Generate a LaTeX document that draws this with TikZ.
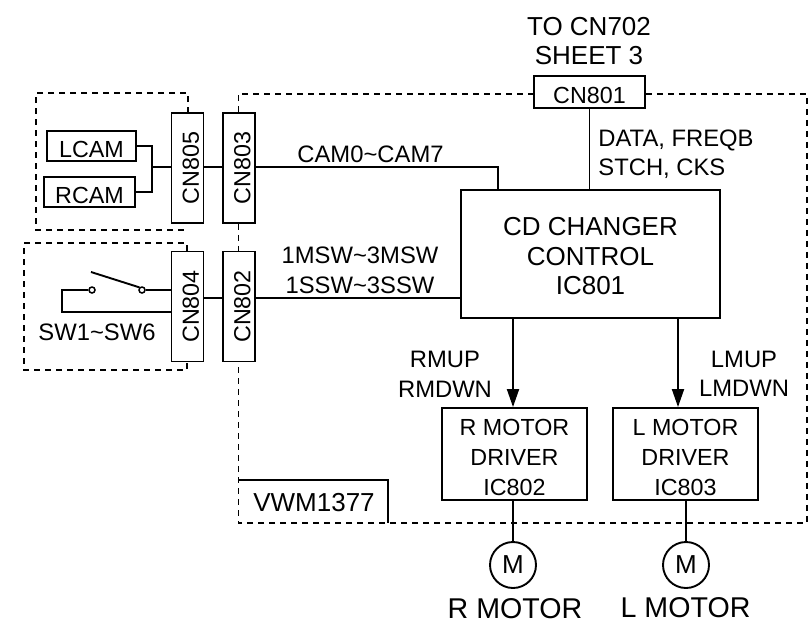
\documentclass[tikz,border=0pt]{standalone}
\usepackage{fontspec}
\setmainfont{Liberation Sans}
\usetikzlibrary{arrows.meta}

\newcommand{\lift}{\rule{0pt}{23pt}}

\tikzset{
  wire/.style={line width=1.9pt},
  signal/.style={wire, -{Triangle[length=18pt, width=12pt]}},
  frame/.style={line width=1.6pt, dash pattern=on 6pt off 5pt},
  box/.style={draw, line width=1.9pt, inner sep=0pt, align=center, font=\fontsize{23.3}{30}\selectfont},
  onebox/.style={box, text height=23pt},
  conn/.style={onebox, rotate=90, minimum width=110pt, minimum height=32pt},
  lab/.style={inner sep=0pt, align=center, font=\fontsize{23.8}{29.5}\selectfont},
  big/.style={inner sep=0pt, align=center, font=\fontsize{26}{29.5}\selectfont},
  motor/.style={draw, circle, line width=1.9pt, inner sep=0pt, minimum size=46pt, font=\fontsize{26}{30}\selectfont},
  motorlab/.style={inner sep=0pt, font=\fontsize{28.6}{30}\selectfont},
  contact/.style={draw, circle, line width=1.5pt, fill=white, minimum size=6pt, inner sep=0pt}
}

\begin{document}
\begin{tikzpicture}[x=1pt, y=-1pt]
  \useasboundingbox (0, 0) rectangle (809, 624);

  \node[conn] (cn805) at (187.5, 168) {CN805};
  \node[conn] (cn803) at (239, 168) {CN803};
  \node[conn] (cn804) at (187.5, 306.5) {CN804};
  \node[conn] (cn802) at (239, 306.5) {CN802};
  \node[onebox, minimum width=111pt, minimum height=32pt] (cn801) at (589.5, 92) {CN801};
  \node[onebox, minimum width=89pt, minimum height=30pt] (lcam) at (91.5, 146) {LCAM};
  \node[onebox, minimum width=91pt, minimum height=30pt] (rcam) at (89.5, 192) {RCAM};
  \node[box, font=\fontsize{26}{29.5}\selectfont, minimum width=259pt, minimum height=128pt] (ic801) at (590.5, 254) {\lift CD CHANGER\\CONTROL\\IC801};
  \node[box, minimum width=145pt, minimum height=92pt] (rdrv) at (514.5, 454) {\lift R MOTOR\\DRIVER\\IC802};
  \node[box, minimum width=145pt, minimum height=92pt] (ldrv) at (685.5, 454) {\lift L MOTOR\\DRIVER\\IC803};
  \node[motor] (rmot) at (513, 565) {M};
  \node[motor] (lmot) at (686, 565) {M};

  % cam side
  \coordinate (camj) at (152, 167);
  \coordinate (camin) at (498, 190);
  \draw[wire] (lcam.east) -| (camj);
  \draw[wire] (rcam.east) -| (camj);
  \draw[wire] (camj) -- (camj -| cn805.north);
  \draw[wire] (camj -| cn805.south) -- (camj -| cn803.north);
  \draw[wire] (camj -| cn803.south) -| (camin);

  % switch side
  \node[contact] (swl) at (92, 290) {};
  \node[contact] (swr) at (142, 290) {};
  \coordinate (swtip) at (91, 272);
  \coordinate (swlow) at (62, 312);
  \coordinate (swout) at (204, 298);
  \draw[wire] (swtip) -- (swr.north west);
  \draw[wire] (swr) -- (swr -| cn804.north);
  \draw[wire] (swl.west) -| (swlow) -- (swlow -| cn804.north);
  \draw[wire] (swout) -- (swout -| cn802.north);
  \draw[wire] (swout -| cn802.south) -- (swout -| ic801.west);

  \coordinate (rtap) at (513, 318);
  \coordinate (ltap) at (678, 318);
  \draw[wire] (cn801.south) -- (cn801.south |- ic801.north);
  \draw[signal] (rtap) -- (rtap |- rdrv.north);
  \draw[signal] (ltap) -- (ltap |- ldrv.north);
  \draw[wire] (rmot |- rdrv.south) -- (rmot.north);
  \draw[wire] (lmot |- ldrv.south) -- (lmot.north);

  % dashed frames
  \coordinate (ftl) at (238.5, 94);
  \coordinate (fbr) at (807, 523);
  \draw[frame] (188, 113) -- (188, 93) -- (36, 93) -- (36, 230) -- (188, 230);
  \draw[frame] (187, 251) -- (187, 243) -- (24, 243) -- (24, 370) -- (187, 370) -- (187, 362);
  \draw[frame] (ftl |- cn803.east) -- (ftl) -- (ftl -| cn801.west);
  \draw[frame] (ftl -| cn801.east) -- (ftl -| fbr) -- (fbr) -- (fbr -| ftl) -- (ftl |- cn802.west);
  \draw[frame] (ftl |- cn803.west) -- (ftl |- cn802.east);
  \draw[wire] (238.5, 480) -- (388, 480) -- (388, 523);

  \node[big] (title) at (589, 41) {TO CN702\\SHEET 3};
  \node[lab] (camlab) at (370.5, 154.5) {CAM0\textasciitilde CAM7};
  \node[lab] (mswlab) at (360, 270.5) {1MSW\textasciitilde 3MSW\\1SSW\textasciitilde 3SSW};
  \node[lab] (swlab) at (97, 332) {SW1\textasciitilde SW6};
  \node[lab, align=left] (datalab) at (676, 154) {DATA, FREQB\\STCH, CKS};
  \node[lab] (rmuplab) at (445, 374.5) {RMUP\\RMDWN};
  \node[lab] (lmuplab) at (744, 374) {LMUP\\LMDWN};
  \node[big] (vwm) at (314, 503) {VWM1377};
  \node[motorlab] (rname) at (515, 609) {R MOTOR};
  \node[motorlab] (lname) at (685.5, 607.5) {L MOTOR};
\end{tikzpicture}
\end{document}
